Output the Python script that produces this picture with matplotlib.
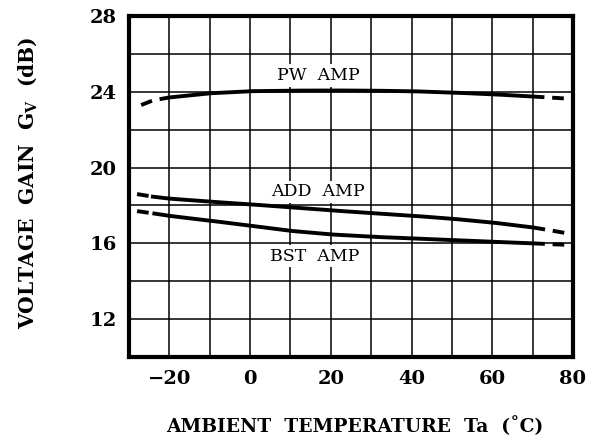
import numpy as np
import matplotlib.pyplot as plt

# curves: (temperature, gain)
pw_t = [-27, -24, -20, -10, 0, 10, 20, 30, 40, 50, 60, 70, 74, 78.5]
pw_g = [23.3, 23.55, 23.7, 23.92, 24.03, 24.06, 24.07, 24.06, 24.03, 23.96, 23.87, 23.75, 23.7, 23.64]
add_t = [-28, -24, -20, -10, 0, 10, 20, 30, 40, 50, 60, 70, 74, 78.8]
add_g = [18.6, 18.46, 18.36, 18.2, 18.06, 17.9, 17.74, 17.6, 17.46, 17.3, 17.1, 16.84, 16.7, 16.52]
bst_t = [-28, -24, -20, -10, 0, 10, 20, 30, 40, 50, 60, 70, 74, 78.7]
bst_g = [17.7, 17.58, 17.45, 17.2, 16.93, 16.66, 16.47, 16.35, 16.26, 16.17, 16.08, 16.0, 15.96, 15.92]
solid_range = [(-20, 70), (-24.3, 70), (-24, 70)]

curves = [("PW  AMP", pw_t, pw_g, (17, 24.85)),
          ("ADD  AMP", add_t, add_g, (16.8, 18.72)),
          ("BST  AMP", bst_t, bst_g, (16, 15.33))]

xticks = [-20, 0, 20, 40, 60, 80]
yticks = [12, 16, 20, 24, 28]

plt.rcParams['font.family'] = ['DejaVu Serif']

fig = plt.figure(figsize=(5.89, 4.45), dpi=100)
ax = fig.add_axes([129/589, 1-357/445, 444/589, 341/445])
ax.set_xlim(-30, 80)
ax.set_ylim(10, 28)
ax.set_xticks(np.arange(-30, 81, 10), minor=True)
ax.set_yticks(np.arange(10, 29, 2), minor=True)
ax.set_xticks(xticks)
ax.set_yticks(yticks)
ax.grid(True, which='both', color='black', linewidth=1.1)
ax.tick_params(which='both', length=0, pad=9, labelsize=14)
ax.set_xticklabels(['\u221220' if v == -20 else str(v) for v in xticks])
for lab in ax.get_xticklabels() + ax.get_yticklabels():
    lab.set_fontweight('bold')
for sp in ax.spines.values():
    sp.set_linewidth(3)

for (name, t, g, pos), (lo, hi) in zip(curves, solid_range):
    t = np.array(t)
    g = np.array(g)
    fine_t = np.linspace(t[0], t[-1], 300)
    fine_g = np.interp(fine_t, t, g)
    inside = (fine_t >= lo) & (fine_t <= hi)
    ax.plot(np.where(inside, fine_t, np.nan), fine_g, color='black', lw=2.8, zorder=3)
    left = fine_t <= lo
    right = fine_t >= hi
    ax.plot(fine_t[left], fine_g[left], color='black', lw=2.8, dashes=(3, 2), zorder=3)
    ax.plot(fine_t[right], fine_g[right], color='black', lw=2.8, dashes=(3, 2), zorder=3)
    ax.text(pos[0], pos[1], name, ha='center', va='center', fontsize=12.5,
            bbox=dict(facecolor='white', edgecolor='none', pad=2), zorder=4)

fig.text(355/589, 1-426/445, 'AMBIENT  TEMPERATURE  Ta  (\u02daC)', ha='center', va='center',
         fontsize=13.5, fontweight='bold')
fig.text(28/589, 1-183/445, r'VOLTAGE  GAIN  G$_\mathregular{V}$  (dB)', ha='center', va='center',
         rotation=90, fontsize=14.5, fontweight='bold')

fig.savefig('out.png', dpi=100)
